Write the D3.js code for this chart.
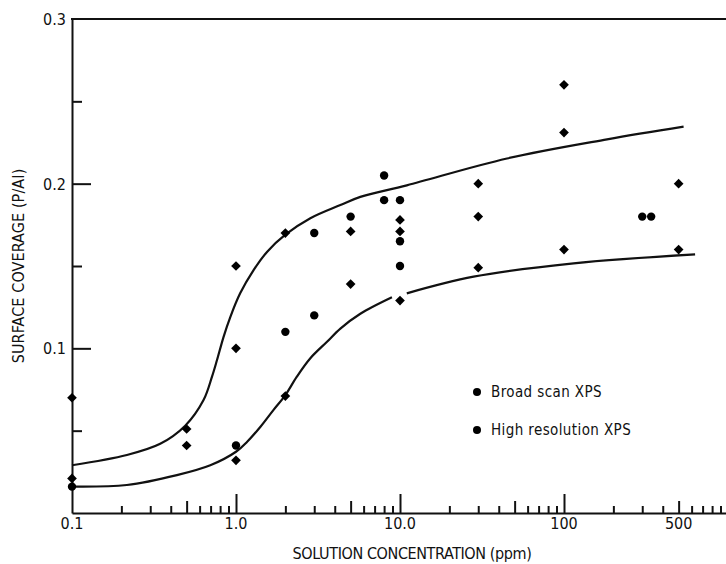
<!DOCTYPE html>
<html>
<head>
<meta charset="utf-8">
<script src="https://cdn.jsdelivr.net/npm/d3@7"></script>
<style>
  body { margin: 0; background: #fff; }
  svg { display: block; font-family: "DejaVu Sans Condensed", "Liberation Sans Narrow", sans-serif; }
  .axis path, .axis line { stroke: #111; stroke-width: 2; }
</style>
</head>
<body>
<svg id="chart"></svg>
<script>
// broad scan XPS (circles)
const broadConc = [0.1, 1.0, 2, 3, 3, 5, 8, 8, 10, 10, 10, 300, 340];
const broadCov  = [0.016, 0.041, 0.11, 0.17, 0.12, 0.18, 0.205, 0.19, 0.19, 0.165, 0.15, 0.18, 0.18];

// high resolution XPS (diamonds)
const highConc = [0.1, 0.1, 0.5, 0.5, 1.0, 1.0, 1.0, 2, 2, 5, 5, 10, 10, 10, 30, 30, 30, 100, 100, 100, 500, 500];
const highCov  = [0.07, 0.021, 0.051, 0.041, 0.15, 0.10, 0.032, 0.17, 0.071, 0.171, 0.139, 0.178, 0.171, 0.129, 0.20, 0.18, 0.149, 0.26, 0.231, 0.16, 0.20, 0.16];

// hand drawn envelope curves
const upperConc = [0.1, 0.216, 0.345, 0.49, 0.634, 0.714, 0.766, 0.84, 0.923, 1.06, 1.28, 1.55, 2.0, 2.84, 4.33, 5.73, 11, 44.9, 183, 536];
const upperCov  = [0.029, 0.0352, 0.042, 0.053, 0.0686, 0.0828, 0.0929, 0.107, 0.119, 0.1334, 0.1475, 0.1587, 0.169, 0.179, 0.187, 0.192, 0.199, 0.2153, 0.2269, 0.2346];
const lowerConc = [0.1, 0.216, 0.436, 0.697, 1.0, 1.17, 1.41, 1.69, 2.0, 2.35, 2.84, 3.59, 4.33, 5.73, 8.93, 11, 28.1, 114.5, 630];
const lowerCov  = [0.016, 0.017, 0.023, 0.029, 0.0372, 0.0433, 0.0524, 0.0625, 0.0716, 0.0828, 0.094, 0.104, 0.112, 0.121, 0.131, 0.1334, 0.1435, 0.1516, 0.157];

const xLabels = [[0.1, "0.1"], [1, "1.0"], [10, "10.0"], [100, "100"], [500, "500"]];
const yLabels = [[0.1, "0.1"], [0.2, "0.2"], [0.3, "0.3"]];
const legendItems = ["Broad scan XPS", "High resolution XPS"];

const svg = d3.select("#chart")
  .attr("width", 726)
  .attr("height", 564);

const x = d3.scaleLog().domain([0.1, 1000]).range([72, 728]);
const y = d3.scaleLinear().domain([0, 0.3]).range([513, 19]);

// x axis: ticks point up into the plot
const minorX = [];
[0.1, 1, 10, 100].forEach(d => d3.range(2, 10).forEach(k => { if (k != 5) minorX.push(d * k); }));

svg.append("g").attr("class", "axis")
  .attr("transform", "translate(0," + y(0) + ")")
  .call(d3.axisBottom(x).tickValues(minorX).tickSizeInner(-7).tickSizeOuter(0).tickFormat(""));
svg.append("g").attr("class", "axis")
  .attr("transform", "translate(0," + y(0) + ")")
  .call(d3.axisBottom(x).tickValues([0.5, 5, 50, 500]).tickSizeInner(-12).tickSizeOuter(0).tickFormat(""))
  .select(".domain").remove();
svg.append("g").attr("class", "axis")
  .attr("transform", "translate(0," + y(0) + ")")
  .call(d3.axisBottom(x).tickValues([1, 10, 100]).tickSizeInner(-19).tickSizeOuter(0).tickFormat(""))
  .select(".domain").remove();

// y axis
svg.append("g").attr("class", "axis")
  .attr("transform", "translate(" + x(0.1) + ",0)")
  .call(d3.axisLeft(y).tickValues([0.05, 0.15, 0.25]).tickSizeInner(-10).tickSizeOuter(0).tickFormat(""));
svg.append("g").attr("class", "axis")
  .attr("transform", "translate(" + x(0.1) + ",0)")
  .call(d3.axisLeft(y).tickValues([0.1, 0.2]).tickSizeInner(-19).tickSizeOuter(0).tickFormat(""))
  .select(".domain").remove();

// top frame line
svg.append("line")
  .attr("x1", x(0.1) - 1).attr("x2", 726)
  .attr("y1", y(0.3)).attr("y2", y(0.3))
  .attr("stroke", "#111").attr("stroke-width", 2);

// tick labels
svg.selectAll(".xlab")
  .data(xLabels)
  .join("text")
  .attr("x", d => x(d[0]))
  .attr("y", 529)
  .attr("text-anchor", "middle")
  .attr("font-size", 16)
  .attr("fill", "#111")
  .text(d => d[1]);

svg.selectAll(".ylab")
  .data(yLabels)
  .join("text")
  .attr("x", 66)
  .attr("y", d => y(d[0]) + 6)
  .attr("text-anchor", "end")
  .attr("font-size", 16)
  .attr("fill", "#111")
  .text(d => d[1]);

// axis titles
svg.append("text")
  .attr("x", 412)
  .attr("y", 559)
  .attr("text-anchor", "middle")
  .attr("font-size", 16)
  .attr("letter-spacing", -0.4)
  .attr("fill", "#111")
  .text("SOLUTION CONCENTRATION (ppm)");

svg.append("text")
  .attr("transform", "translate(24,266) rotate(-90)")
  .attr("text-anchor", "middle")
  .attr("font-size", 16)
  .attr("letter-spacing", 0.1)
  .attr("fill", "#111")
  .text("SURFACE COVERAGE (P/AI)");

// curves
const line = d3.line()
  .x(d => x(d[0]))
  .y(d => y(d[1]))
  .curve(d3.curveCatmullRom.alpha(0.5));

const upper = d3.zip(upperConc, upperCov);
const lower = d3.zip(lowerConc, lowerCov);

svg.append("path")
  .attr("d", line(upper))
  .attr("fill", "none").attr("stroke", "#111").attr("stroke-width", 2.2);

// lower curve is broken around the 10 ppm point
[lower.filter(d => d[0] <= 9), lower.filter(d => d[0] >= 11)].forEach(seg => {
  svg.append("path")
    .attr("d", line(seg))
    .attr("fill", "none").attr("stroke", "#111").attr("stroke-width", 2.2);
});

// points
svg.selectAll(".broad")
  .data(d3.zip(broadConc, broadCov))
  .join("circle")
  .attr("cx", d => x(d[0]))
  .attr("cy", d => y(d[1]))
  .attr("r", 4.2)
  .attr("fill", "#000");

const diamond = d3.symbol().type(d3.symbolDiamond2).size(60);
svg.selectAll(".high")
  .data(d3.zip(highConc, highCov))
  .join("path")
  .attr("d", diamond)
  .attr("transform", d => "translate(" + x(d[0]) + "," + y(d[1]) + ")")
  .attr("fill", "#000");

// legend
const legend = svg.selectAll(".legend")
  .data(legendItems)
  .join("g")
  .attr("transform", (d, i) => "translate(477," + (392 + i * 38) + ")");

legend.append("circle")
  .attr("r", 4)
  .attr("fill", "#000");

legend.append("text")
  .attr("x", 14)
  .attr("y", 5)
  .attr("font-size", 15)
  .attr("letter-spacing", 0.4)
  .attr("fill", "#111")
  .text(d => d);
</script>
</body>
</html>
